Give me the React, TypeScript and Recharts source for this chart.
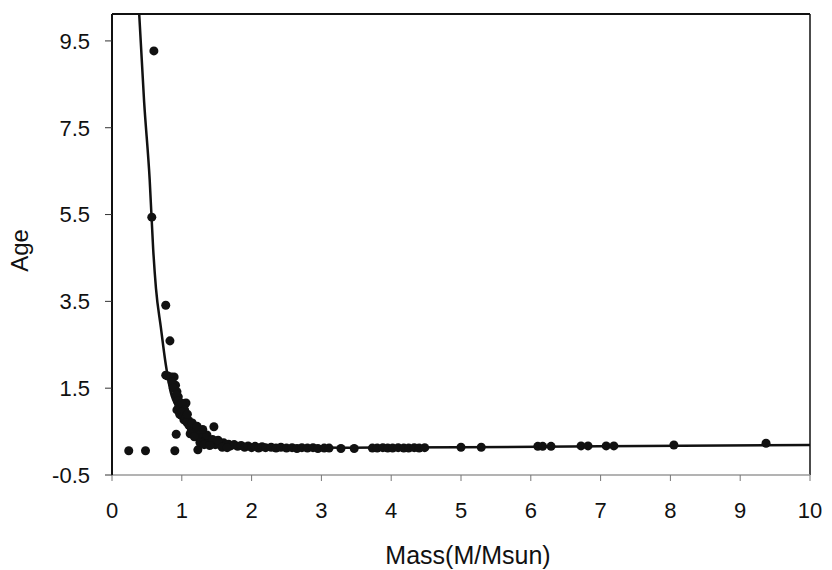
import React from 'react';
import { ComposedChart, Line, Scatter, XAxis, YAxis, ZAxis, ReferenceLine } from 'recharts';

const xTicks = [0, 1, 2, 3, 4, 5, 6, 7, 8, 9, 10];
const yTicks = [-0.5, 1.5, 3.5, 5.5, 7.5, 9.5];
const yMin = -0.5;
const yMax = 10.12;

// observed stars: mass (M/Msun), age
const starMass = [
  0.24, 0.48, 0.90, 1.23, 0.60, 0.57, 0.77, 0.83,
  0.77, 0.80, 0.85, 0.89, 0.91, 0.93, 0.95, 0.93, 1.06, 0.99, 1.03, 1.10, 1.20, 1.46, 0.92,
  0.86, 0.88, 0.92, 0.94, 0.96, 0.98, 1.00, 1.04, 0.97,
  1.00, 1.02, 1.05, 1.07, 1.08, 1.10, 1.12, 1.14, 1.15, 1.17, 1.19, 1.21, 1.23, 1.25, 1.27,
  1.29, 1.31, 1.33, 1.35, 1.38, 1.40, 1.42, 1.45, 1.48, 1.50, 1.53, 1.56, 1.60, 1.63, 1.67,
  1.70, 1.75, 1.80, 1.85, 1.90, 1.95, 2.00, 2.05, 2.10, 2.15, 2.20, 2.28, 2.35, 2.42, 2.50,
  2.58, 2.65, 2.72, 2.80, 2.88, 2.95, 3.04, 3.11, 3.28, 3.47, 3.73, 3.80, 3.88, 3.95, 4.02,
  4.10, 4.18, 4.25, 4.33, 4.40, 4.48, 5.00, 5.29, 6.10, 6.17, 6.29, 6.72, 6.82, 7.08, 7.19,
  8.05, 9.37,
  1.12, 1.18, 1.26, 1.32, 1.36, 1.44, 1.52, 1.58, 1.30, 1.22, 1.40, 1.65,
];
const starAge = [
  0.06, 0.06, 0.06, 0.08, 9.27, 5.44, 3.41, 2.59,
  1.80, 1.78, 1.76, 1.76, 1.57, 1.42, 1.30, 1.00, 1.16, 0.88, 0.77, 0.75, 0.58, 0.61, 0.44,
  1.65, 1.50, 1.35, 1.20, 1.10, 1.05, 1.15, 1.00, 0.90,
  0.95, 0.85, 0.80, 0.72, 0.90, 0.65, 0.62, 0.55, 0.70, 0.50, 0.45, 0.55, 0.40, 0.35, 0.45,
  0.30, 0.38, 0.28, 0.33, 0.25, 0.30, 0.22, 0.28, 0.20, 0.26, 0.22, 0.18, 0.24, 0.19, 0.21,
  0.17, 0.20, 0.16, 0.18, 0.14, 0.17, 0.13, 0.16, 0.12, 0.15, 0.13, 0.14, 0.12, 0.14, 0.12,
  0.13, 0.11, 0.13, 0.12, 0.13, 0.11, 0.12, 0.12, 0.11, 0.11, 0.12, 0.12, 0.13, 0.12, 0.12,
  0.13, 0.12, 0.12, 0.13, 0.12, 0.13, 0.14, 0.14, 0.16, 0.16, 0.16, 0.17, 0.17, 0.17, 0.17,
  0.19, 0.23,
  0.45, 0.38, 0.25, 0.20, 0.42, 0.32, 0.30, 0.14, 0.55, 0.62, 0.18, 0.13,
];

// fitted curve
const fitMass = [0.38, 0.46, 0.54, 0.59, 0.63, 0.70, 0.77, 0.84, 0.96, 1.10, 1.25, 1.43, 1.72, 2.21, 3.4, 5, 7, 10];
const fitAge = [10.4, 8.1, 6.3, 4.7, 3.8, 2.9, 2.05, 1.42, 1.0, 0.70, 0.50, 0.35, 0.24, 0.15, 0.13, 0.14, 0.16, 0.19];

const stars = starMass.map((m, i) => ({ m, age: starAge[i] }));
const fit = fitMass.map((m, i) => ({ m, age: fitAge[i] }));

const FONT = '"Liberation Sans", Arial, Helvetica, sans-serif';
const tickStyle = { fontFamily: FONT, fontSize: 22, fill: '#111' };

const XLabel = (props: any) => {
  const vb = props.viewBox || {};
  return (
    <text x={vb.x + vb.width / 2 + 7} y={vb.y + vb.height - 6} textAnchor="middle"
      fontFamily={FONT} fontSize={25} fill="#111">Mass(M/Msun)</text>
  );
};

const YLabel = (props: any) => {
  const vb = props.viewBox || {};
  const cy = vb.y + vb.height / 2 + 6;
  const cx = 28;
  return (
    <text x={cx} y={cy} transform={`rotate(-90, ${cx}, ${cy})`} textAnchor="middle"
      fontFamily={FONT} fontSize={24} fill="#111">Age</text>
  );
};

export default function App() {
  return (
    <div style={{ position: 'absolute', left: 0, top: 0, width: 832, height: 570, background: '#fff' }}>
      <ComposedChart width={832} height={570} margin={{ top: 14, right: 22, bottom: 0, left: 0 }}>
        <XAxis type="number" dataKey="m" domain={[0, 10]} ticks={xTicks} allowDataOverflow
          height={95} tickSize={6} tickMargin={21} tick={tickStyle}
          axisLine={{ stroke: '#9a9a9a', strokeWidth: 1.5 }} tickLine={{ stroke: '#777' }}
          label={<XLabel />} />
        <YAxis type="number" dataKey="age" domain={[yMin, yMax]} ticks={yTicks} allowDataOverflow
          width={112} tickSize={7} tickMargin={15} tick={tickStyle}
          axisLine={{ stroke: '#111', strokeWidth: 2 }} tickLine={{ stroke: '#333' }}
          label={<YLabel />} />
        <ZAxis range={[64, 64]} />
        <ReferenceLine y={yMax} stroke="#111" strokeWidth={2} />
        <ReferenceLine x={10} stroke="#111" strokeWidth={1.5} />
        <Line data={fit} dataKey="age" type="monotone" stroke="#111" strokeWidth={2.5}
          dot={false} isAnimationActive={false} />
        <Scatter data={stars} dataKey="age" fill="#111" shape="circle" isAnimationActive={false} />
      </ComposedChart>
    </div>
  );
}
